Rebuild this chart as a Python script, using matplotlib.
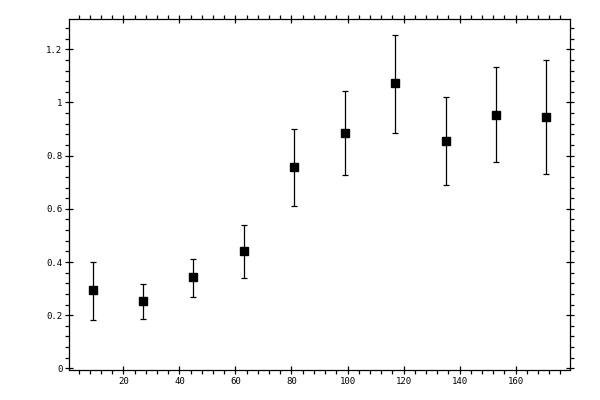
import matplotlib
matplotlib.use("Agg")
import matplotlib.pyplot as plt
from matplotlib.ticker import MultipleLocator, FuncFormatter

# values
x_vals = [9, 27, 45, 63, 81, 99, 117, 135, 153, 171]
y_vals = [0.293, 0.252, 0.342, 0.440, 0.756, 0.884, 1.072, 0.854, 0.952, 0.945]
y_low = [0.181, 0.185, 0.270, 0.338, 0.609, 0.726, 0.884, 0.688, 0.775, 0.730]
y_high = [0.401, 0.318, 0.412, 0.538, 0.901, 1.042, 1.255, 1.019, 1.133, 1.160]


def fmt(v, _pos):
    s = f"{v:.1f}"
    if s.endswith(".0"):
        s = s[:-2]
    return s


def main() -> None:
    fig = plt.figure(figsize=(6, 4), dpi=100)
    ax = fig.add_axes([0.1155, 0.0758, 0.9500 - 0.1155, 0.9518 - 0.0758])

    err = [[y - lo for y, lo in zip(y_vals, y_low)],
           [hi - y for y, hi in zip(y_vals, y_high)]]
    ax.errorbar(x_vals, y_vals, yerr=err, fmt="s", color="black",
                markersize=5.8, elinewidth=0.9, capsize=2.2, capthick=0.9)

    ax.set_xlim(0.7, 179.4)
    ax.set_ylim(-0.005, 1.313)

    ax.xaxis.set_major_locator(MultipleLocator(20))
    ax.xaxis.set_minor_locator(MultipleLocator(4))
    ax.yaxis.set_major_locator(MultipleLocator(0.2))
    ax.yaxis.set_minor_locator(MultipleLocator(0.04))
    ax.yaxis.set_major_formatter(FuncFormatter(fmt))

    ax.tick_params(which="major", direction="inout", length=6, width=0.9,
                   top=True, right=True, labelsize=6.5, pad=2)
    ax.tick_params(which="minor", direction="out", length=2.6, width=0.9,
                   top=True, right=True)
    for lab in ax.get_xticklabels() + ax.get_yticklabels():
        lab.set_family("DejaVu Sans Mono")
    for sp in ax.spines.values():
        sp.set_linewidth(0.9)

    fig.savefig("out.png", dpi=100)
    plt.close(fig)


if __name__ == "__main__":
    main()
